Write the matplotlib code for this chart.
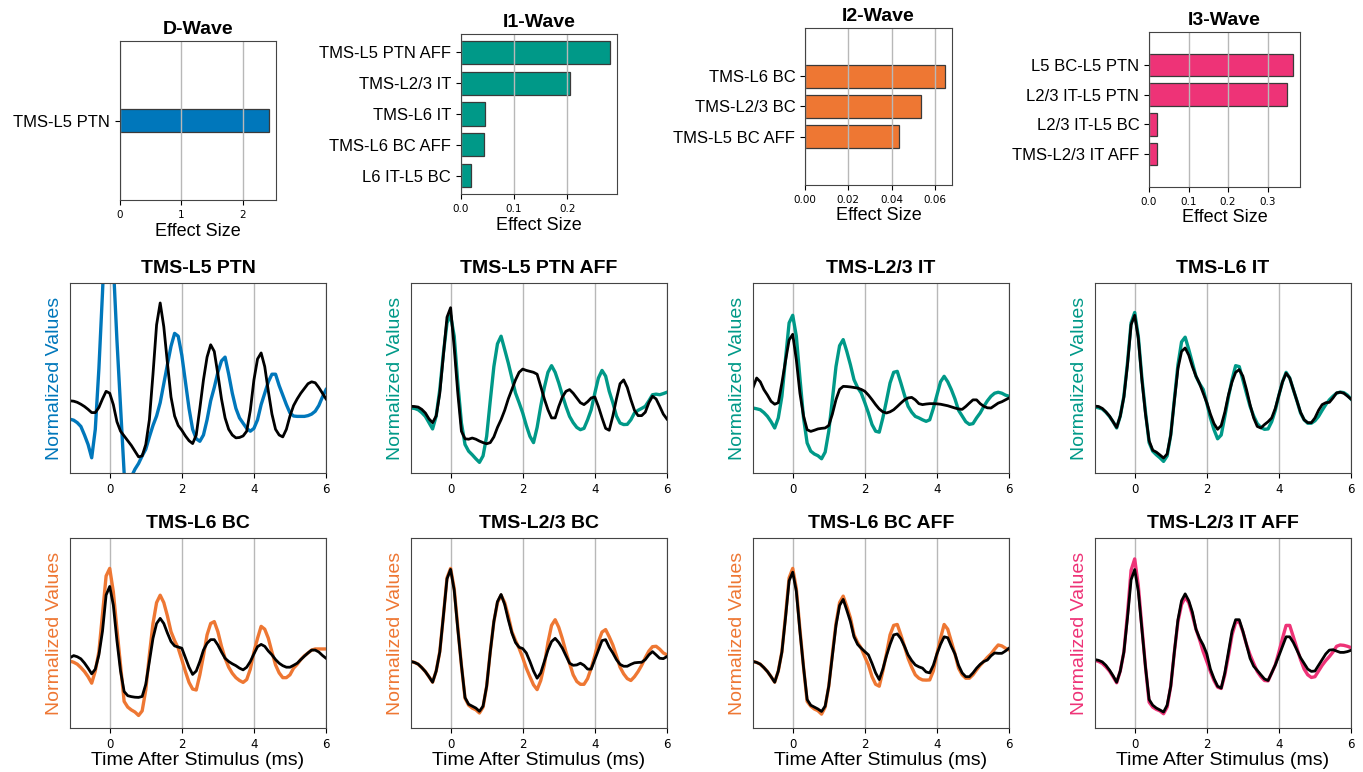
import matplotlib
matplotlib.use('Agg')
import matplotlib.pyplot as plt
import numpy as np

plt.rcParams['font.family'] = 'DejaVu Sans'

BLUE = '#0077BB'
TEAL = '#009988'
ORANGE = '#EE7733'
MAGENTA = '#EE3377'
LABEL_FONT = 'Liberation Sans'

# ---- effect sizes (top row) ----
d_labels = ['TMS-L5 PTN']
d_values = [2.42]
i1_labels = ['TMS-L5 PTN AFF', 'TMS-L2/3 IT', 'TMS-L6 IT', 'TMS-L6 BC AFF', 'L6 IT-L5 BC']
i1_values = [0.280, 0.206, 0.046, 0.044, 0.018]
i2_labels = ['TMS-L6 BC', 'TMS-L2/3 BC', 'TMS-L5 BC AFF']
i2_values = [0.0647, 0.0536, 0.0435]
i3_labels = ['L5 BC-L5 PTN', 'L2/3 IT-L5 PTN', 'L2/3 IT-L5 BC', 'TMS-L2/3 IT AFF']
i3_values = [0.364, 0.350, 0.020, 0.020]

# ---- waveforms, sampled every 0.1 ms from -1.1 to 6.0 ----
time_ms = np.round(np.arange(-1.1, 6.05, 0.1), 1)

l5ptn_model = [0.283, 0.278, 0.265, 0.245, 0.20, 0.15, 0.08, 0.23, 0.55, 0.95, 1.4, 1.45, 1.1, 0.7, 0.35, 0.0,
               -0.15, -0.02, 0.02, 0.05, 0.09, 0.125, 0.19, 0.25, 0.30, 0.37, 0.47, 0.57, 0.667, 0.735, 0.72, 0.62,
               0.48, 0.34, 0.23, 0.18, 0.167, 0.20, 0.28, 0.38, 0.45, 0.53, 0.59, 0.61, 0.52, 0.42, 0.34, 0.29,
               0.262, 0.235, 0.22, 0.235, 0.28, 0.36, 0.42, 0.48, 0.52, 0.52, 0.46, 0.41, 0.36, 0.316, 0.30, 0.298,
               0.298, 0.298, 0.302, 0.31, 0.325, 0.355, 0.40, 0.439]
l5ptn_data = [0.38, 0.378, 0.372, 0.362, 0.35, 0.335, 0.318, 0.318, 0.345, 0.39, 0.43, 0.42, 0.36, 0.27, 0.22, 0.195,
              0.17, 0.145, 0.115, 0.085, 0.09, 0.15, 0.28, 0.52, 0.78, 0.895, 0.77, 0.58, 0.40, 0.30, 0.25, 0.225,
              0.195, 0.17, 0.155, 0.20, 0.34, 0.49, 0.61, 0.675, 0.64, 0.52, 0.39, 0.29, 0.23, 0.20, 0.185, 0.187,
              0.195, 0.22, 0.33, 0.49, 0.60, 0.632, 0.56, 0.43, 0.31, 0.23, 0.20, 0.19, 0.23, 0.30, 0.355, 0.39,
              0.42, 0.445, 0.47, 0.48, 0.475, 0.45, 0.42, 0.39]

l5ptnaff_model = [0.342, 0.34, 0.333, 0.318, 0.298, 0.265, 0.232, 0.30, 0.439, 0.63, 0.79, 0.83, 0.72, 0.474, 0.263,
                  0.15, 0.115, 0.096, 0.075, 0.056, 0.09, 0.193, 0.38, 0.56, 0.68, 0.72, 0.65, 0.579, 0.50, 0.421,
                  0.37, 0.316, 0.25, 0.193, 0.16, 0.24, 0.351, 0.45, 0.53, 0.565, 0.53, 0.474, 0.41, 0.35, 0.298,
                  0.265, 0.24, 0.228, 0.235, 0.28, 0.333, 0.42, 0.50, 0.54, 0.51, 0.43, 0.37, 0.30, 0.263, 0.255,
                  0.256, 0.28, 0.316, 0.33, 0.34, 0.351, 0.38, 0.412, 0.415, 0.412, 0.418, 0.425]
l5ptnaff_data = [0.351, 0.35, 0.347, 0.335, 0.316, 0.285, 0.265, 0.30, 0.42, 0.62, 0.82, 0.87, 0.66, 0.42, 0.22,
                 0.18, 0.178, 0.184, 0.178, 0.168, 0.16, 0.154, 0.16, 0.19, 0.24, 0.281, 0.33, 0.39, 0.44, 0.49,
                 0.53, 0.547, 0.54, 0.535, 0.53, 0.52, 0.456, 0.39, 0.333, 0.29, 0.29, 0.35, 0.40, 0.43, 0.439,
                 0.42, 0.395, 0.37, 0.36, 0.375, 0.395, 0.40, 0.35, 0.29, 0.235, 0.225, 0.30, 0.39, 0.47, 0.49,
                 0.45, 0.386, 0.33, 0.302, 0.302, 0.32, 0.37, 0.404, 0.39, 0.351, 0.31, 0.284]

l23it_model = [0.342, 0.338, 0.333, 0.318, 0.298, 0.27, 0.237, 0.29, 0.404, 0.60, 0.79, 0.83, 0.72, 0.50, 0.29,
               0.158, 0.115, 0.10, 0.091, 0.075, 0.11, 0.22, 0.386, 0.56, 0.67, 0.702, 0.64, 0.57, 0.491, 0.45,
               0.421, 0.37, 0.316, 0.255, 0.22, 0.215, 0.29, 0.38, 0.474, 0.53, 0.535, 0.474, 0.41, 0.351, 0.32,
               0.298, 0.29, 0.28, 0.272, 0.28, 0.34, 0.41, 0.48, 0.509, 0.48, 0.439, 0.39, 0.33, 0.30, 0.27,
               0.256, 0.26, 0.29, 0.316, 0.35, 0.38, 0.404, 0.42, 0.425, 0.42, 0.41, 0.404]
l23it_data = [0.45, 0.50, 0.48, 0.439, 0.41, 0.377, 0.362, 0.37, 0.474, 0.59, 0.70, 0.73, 0.596, 0.42, 0.30, 0.228,
              0.219, 0.225, 0.232, 0.235, 0.237, 0.25, 0.31, 0.386, 0.44, 0.456, 0.455, 0.453, 0.45, 0.447, 0.44,
              0.43, 0.41, 0.386, 0.36, 0.337, 0.322, 0.316, 0.322, 0.333, 0.35, 0.368, 0.385, 0.395, 0.398, 0.385,
              0.365, 0.36, 0.363, 0.365, 0.365, 0.364, 0.362, 0.358, 0.354, 0.348, 0.342, 0.337, 0.335, 0.35,
              0.368, 0.385, 0.385, 0.365, 0.351, 0.343, 0.342, 0.355, 0.368, 0.375, 0.385, 0.395]

l6it_model = [0.347, 0.343, 0.337, 0.32, 0.298, 0.27, 0.237, 0.30, 0.404, 0.58, 0.79, 0.845, 0.72, 0.50, 0.32,
              0.16, 0.115, 0.096, 0.08, 0.061, 0.09, 0.20, 0.386, 0.57, 0.69, 0.715, 0.65, 0.58, 0.509, 0.47,
              0.44, 0.368, 0.29, 0.228, 0.18, 0.20, 0.298, 0.40, 0.491, 0.565, 0.56, 0.491, 0.42, 0.351, 0.30,
              0.26, 0.24, 0.23, 0.232, 0.27, 0.33, 0.41, 0.48, 0.53, 0.50, 0.439, 0.38, 0.316, 0.28, 0.262,
              0.262, 0.275, 0.298, 0.33, 0.36, 0.385, 0.404, 0.42, 0.426, 0.423, 0.41, 0.389]
l6it_data = [0.352, 0.35, 0.34, 0.322, 0.30, 0.27, 0.24, 0.30, 0.40, 0.57, 0.78, 0.83, 0.71, 0.49, 0.31, 0.17,
             0.12, 0.11, 0.095, 0.079, 0.10, 0.20, 0.38, 0.55, 0.64, 0.658, 0.62, 0.56, 0.51, 0.47, 0.42, 0.37,
             0.31, 0.26, 0.23, 0.25, 0.32, 0.41, 0.48, 0.53, 0.544, 0.51, 0.44, 0.36, 0.29, 0.245, 0.237, 0.255,
             0.27, 0.29, 0.34, 0.41, 0.48, 0.525, 0.50, 0.44, 0.38, 0.32, 0.28, 0.265, 0.265, 0.29, 0.33, 0.36,
             0.37, 0.372, 0.395, 0.422, 0.425, 0.42, 0.405, 0.389]

l6bc_model = [0.352, 0.346, 0.336, 0.318, 0.297, 0.27, 0.236, 0.30, 0.402, 0.60, 0.80, 0.84, 0.717, 0.52, 0.33,
              0.14, 0.11, 0.095, 0.084, 0.066, 0.09, 0.20, 0.385, 0.55, 0.66, 0.699, 0.66, 0.59, 0.507, 0.46,
              0.42, 0.36, 0.297, 0.24, 0.205, 0.20, 0.28, 0.38, 0.49, 0.55, 0.56, 0.507, 0.43, 0.367, 0.32,
              0.288, 0.265, 0.25, 0.24, 0.255, 0.31, 0.40, 0.472, 0.535, 0.52, 0.472, 0.40, 0.332, 0.29, 0.265,
              0.265, 0.28, 0.315, 0.335, 0.36, 0.38, 0.395, 0.41, 0.416, 0.416, 0.416, 0.416]
l6bc_data = [0.37, 0.381, 0.375, 0.364, 0.342, 0.315, 0.285, 0.31, 0.385, 0.51, 0.70, 0.745, 0.647, 0.46, 0.30,
             0.192, 0.17, 0.165, 0.162, 0.161, 0.166, 0.23, 0.35, 0.472, 0.55, 0.577, 0.55, 0.50, 0.455, 0.432,
             0.426, 0.42, 0.37, 0.32, 0.282, 0.30, 0.35, 0.41, 0.446, 0.465, 0.465, 0.437, 0.40, 0.367, 0.35,
             0.338, 0.328, 0.315, 0.306, 0.32, 0.35, 0.39, 0.428, 0.44, 0.43, 0.405, 0.385, 0.36, 0.341, 0.328,
             0.32, 0.32, 0.33, 0.341, 0.36, 0.378, 0.395, 0.41, 0.41, 0.40, 0.382, 0.367]

l23bc_model = [0.35, 0.345, 0.336, 0.318, 0.297, 0.27, 0.241, 0.30, 0.402, 0.59, 0.79, 0.84, 0.734, 0.53, 0.33,
               0.157, 0.12, 0.105, 0.096, 0.079, 0.11, 0.22, 0.402, 0.56, 0.66, 0.699, 0.66, 0.59, 0.507, 0.46,
               0.42, 0.37, 0.315, 0.27, 0.227, 0.202, 0.25, 0.332, 0.45, 0.54, 0.57, 0.53, 0.47, 0.40, 0.34, 0.28,
               0.245, 0.23, 0.23, 0.26, 0.315, 0.38, 0.455, 0.505, 0.518, 0.48, 0.437, 0.38, 0.32, 0.285, 0.26,
               0.25, 0.27, 0.297, 0.33, 0.37, 0.405, 0.428, 0.43, 0.415, 0.395, 0.385]
l23bc_data = [0.35, 0.345, 0.336, 0.318, 0.297, 0.27, 0.241, 0.30, 0.40, 0.59, 0.785, 0.835, 0.725, 0.52, 0.33,
              0.16, 0.125, 0.115, 0.105, 0.088, 0.115, 0.22, 0.40, 0.56, 0.665, 0.703, 0.65, 0.57, 0.50, 0.45,
              0.425, 0.418, 0.395, 0.35, 0.30, 0.262, 0.29, 0.35, 0.41, 0.455, 0.472, 0.45, 0.42, 0.38, 0.341,
              0.33, 0.332, 0.341, 0.33, 0.31, 0.31, 0.36, 0.41, 0.46, 0.465, 0.425, 0.395, 0.36, 0.335, 0.325,
              0.325, 0.335, 0.343, 0.345, 0.346, 0.36, 0.385, 0.402, 0.385, 0.367, 0.365, 0.376]

l6bcaff_model = [0.35, 0.345, 0.336, 0.318, 0.297, 0.27, 0.241, 0.30, 0.402, 0.59, 0.79, 0.84, 0.734, 0.52, 0.32,
                 0.14, 0.115, 0.10, 0.091, 0.073, 0.11, 0.22, 0.39, 0.55, 0.66, 0.694, 0.64, 0.58, 0.49, 0.45,
                 0.42, 0.375, 0.332, 0.27, 0.23, 0.22, 0.30, 0.39, 0.49, 0.54, 0.545, 0.49, 0.43, 0.367, 0.32,
                 0.28, 0.262, 0.253, 0.252, 0.253, 0.30, 0.39, 0.472, 0.545, 0.52, 0.455, 0.39, 0.315, 0.28,
                 0.262, 0.262, 0.28, 0.306, 0.33, 0.35, 0.372, 0.39, 0.415, 0.437, 0.432, 0.42, 0.411]
l6bcaff_data = [0.35, 0.345, 0.336, 0.318, 0.297, 0.27, 0.241, 0.30, 0.40, 0.58, 0.775, 0.82, 0.72, 0.51, 0.32,
                0.15, 0.12, 0.11, 0.10, 0.087, 0.115, 0.22, 0.38, 0.54, 0.645, 0.677, 0.62, 0.56, 0.48, 0.44,
                0.42, 0.402, 0.385, 0.34, 0.29, 0.255, 0.31, 0.38, 0.44, 0.49, 0.495, 0.47, 0.43, 0.385, 0.355,
                0.332, 0.322, 0.315, 0.295, 0.29, 0.33, 0.39, 0.44, 0.48, 0.475, 0.43, 0.39, 0.33, 0.29, 0.27,
                0.27, 0.29, 0.315, 0.335, 0.35, 0.358, 0.38, 0.395, 0.393, 0.393, 0.405, 0.42]

l23itaff_model = [0.356, 0.35, 0.34, 0.322, 0.30, 0.27, 0.238, 0.30, 0.40, 0.60, 0.83, 0.89, 0.75, 0.53, 0.32,
                  0.136, 0.11, 0.098, 0.09, 0.075, 0.11, 0.22, 0.40, 0.56, 0.65, 0.687, 0.66, 0.594, 0.52, 0.465,
                  0.402, 0.35, 0.297, 0.25, 0.215, 0.208, 0.28, 0.38, 0.49, 0.555, 0.56, 0.507, 0.44, 0.385, 0.34,
                  0.297, 0.27, 0.25, 0.248, 0.29, 0.332, 0.40, 0.472, 0.54, 0.54, 0.48, 0.42, 0.36, 0.31, 0.28,
                  0.266, 0.27, 0.30, 0.33, 0.355, 0.376, 0.40, 0.43, 0.437, 0.435, 0.43, 0.423]
l23itaff_data = [0.36, 0.356, 0.348, 0.33, 0.305, 0.275, 0.241, 0.30, 0.40, 0.58, 0.78, 0.834, 0.72, 0.52, 0.32,
                 0.15, 0.12, 0.105, 0.095, 0.084, 0.12, 0.22, 0.40, 0.57, 0.67, 0.706, 0.67, 0.61, 0.52, 0.472,
                 0.437, 0.39, 0.31, 0.26, 0.22, 0.21, 0.29, 0.40, 0.51, 0.57, 0.57, 0.51, 0.44, 0.367, 0.325,
                 0.303, 0.28, 0.258, 0.25, 0.29, 0.332, 0.38, 0.43, 0.48, 0.48, 0.45, 0.41, 0.37, 0.34, 0.31,
                 0.298, 0.30, 0.33, 0.36, 0.39, 0.41, 0.412, 0.405, 0.398, 0.398, 0.402, 0.409]

panels = [
    ('TMS-L5 PTN', BLUE, l5ptn_model, l5ptn_data),
    ('TMS-L5 PTN AFF', TEAL, l5ptnaff_model, l5ptnaff_data),
    ('TMS-L2/3 IT', TEAL, l23it_model, l23it_data),
    ('TMS-L6 IT', TEAL, l6it_model, l6it_data),
    ('TMS-L6 BC', ORANGE, l6bc_model, l6bc_data),
    ('TMS-L2/3 BC', ORANGE, l23bc_model, l23bc_data),
    ('TMS-L6 BC AFF', ORANGE, l6bcaff_model, l6bcaff_data),
    ('TMS-L2/3 IT AFF', MAGENTA, l23itaff_model, l23itaff_data),
]

fig = plt.figure(figsize=(13.63, 7.72), dpi=100, facecolor='white')

# ---- bar charts ----
bar_specs = [
    ('D-Wave', d_labels, d_values, BLUE, [0.0880, 0.7409, 0.1145, 0.2060], [0, 1, 2]),
    ('I1-Wave', i1_labels, i1_values, TEAL, [0.3382, 0.7487, 0.1145, 0.2073], [0.0, 0.1, 0.2]),
    ('I2-Wave', i2_labels, i2_values, ORANGE, [0.5906, 0.7604, 0.1080, 0.2034], [0.0, 0.02, 0.04, 0.06]),
    ('I3-Wave', i3_labels, i3_values, MAGENTA, [0.8430, 0.7578, 0.1108, 0.2008], [0.0, 0.1, 0.2, 0.3]),
]
tick_fmt = {'D-Wave': '{:.0f}', 'I1-Wave': '{:.1f}', 'I2-Wave': '{:.2f}', 'I3-Wave': '{:.1f}'}

for title, labels, values, color, rect, xt in bar_specs:
    ax = fig.add_axes(rect)
    ypos = np.arange(len(labels))
    ax.barh(ypos, values, height=0.75, color=color, edgecolor='#3a3a3a', linewidth=0.9)
    mid = (len(labels) - 1) / 2
    ax.set_ylim(mid + 2.6, mid - 2.6)
    ax.set_xlim(0, max(values) * 1.05)
    ax.set_yticks(ypos)
    ax.set_yticklabels(labels, fontsize=12, family=LABEL_FONT)
    ax.set_xticks(xt)
    ax.set_xticklabels([tick_fmt[title].format(v) for v in xt], fontsize=7.5)
    ax.grid(True, axis='x', color='#b8b8b8', linewidth=1)
    ax.set_xlabel('Effect Size', fontsize=13, family=LABEL_FONT, labelpad=2)
    ax.set_title(title, fontsize=14, fontweight='bold', family=LABEL_FONT, pad=5)
    for spine in ax.spines.values():
        spine.set_edgecolor('#444444')

# ---- waveform panels ----
col_x = [0.0514, 0.3015, 0.5525, 0.8034]
row_y = [0.3873, 0.0570]
for i, (title, color, model, data) in enumerate(panels):
    ax = fig.add_axes([col_x[i % 4], row_y[i // 4], 0.1878, 0.2461])
    ax.plot(time_ms, model, color=color, linewidth=2.4, solid_joinstyle='round')
    ax.plot(time_ms, data, color='black', linewidth=2.0, solid_joinstyle='round')
    ax.set_xlim(-1.1, 6)
    ax.set_ylim(0, 1)
    ax.set_xticks([0, 2, 4, 6])
    ax.tick_params(axis='x', labelsize=8.5)
    ax.set_yticks([])
    ax.grid(True, axis='x', color='#b8b8b8', linewidth=1)
    ax.set_title(title, fontsize=14, fontweight='bold', family=LABEL_FONT, pad=7)
    ax.set_ylabel('Normalized Values', color=color, fontsize=14, family=LABEL_FONT, labelpad=5)
    if i >= 4:
        ax.set_xlabel('Time After Stimulus (ms)', fontsize=14, family=LABEL_FONT, labelpad=1)
    for spine in ax.spines.values():
        spine.set_edgecolor('#444444')

plt.savefig('out.png', dpi=100, facecolor='white')
